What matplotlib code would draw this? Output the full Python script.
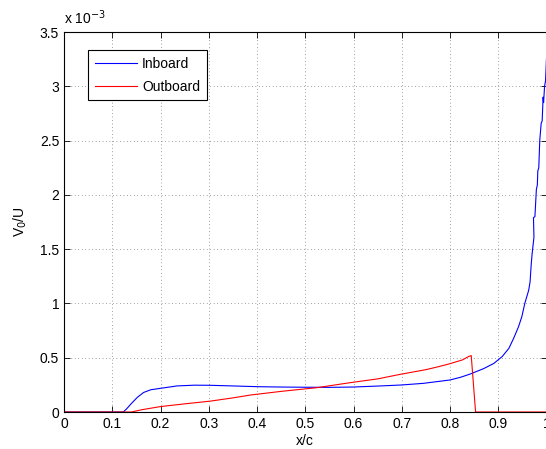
import matplotlib.pyplot as plt

plt.rcParams['font.family'] = ['Liberation Sans', 'DejaVu Sans']

# values (V_0/U in units of 1e-3)
x_in = [0.0, 0.123, 0.13, 0.14, 0.152, 0.165, 0.18, 0.2, 0.234, 0.27, 0.303, 0.35,
        0.403, 0.45, 0.5, 0.55, 0.6, 0.656, 0.7, 0.745, 0.8, 0.822, 0.842, 0.87,
        0.891, 0.908, 0.922, 0.932, 0.942, 0.949, 0.955, 0.963, 0.966, 0.968,
        0.970, 0.974, 0.973, 0.976, 0.979, 0.981, 0.982, 0.984, 0.986, 0.989,
        0.991, 0.993, 0.994, 0.996, 0.998, 1.0]
v_in = [0.0, 0.0, 0.03, 0.08, 0.135, 0.18, 0.205, 0.218, 0.24, 0.247, 0.246, 0.24,
        0.233, 0.23, 0.228, 0.227, 0.23, 0.24, 0.249, 0.264, 0.295, 0.32, 0.35, 0.40,
        0.448, 0.51, 0.586, 0.68, 0.785, 0.88, 1.0, 1.12, 1.2, 1.34,
        1.45, 1.61, 1.79, 1.80, 2.05, 2.09, 2.22, 2.25, 2.50, 2.66,
        2.68, 2.90, 2.85, 3.0, 3.05, 3.26]

x_out = [0.0, 0.14, 0.16, 0.2, 0.25, 0.303, 0.35, 0.386, 0.45, 0.524, 0.593, 0.65,
         0.697, 0.75, 0.774, 0.80, 0.826, 0.838, 0.844, 0.853, 1.0]
v_out = [0.0, 0.0, 0.02, 0.05, 0.075, 0.10, 0.13, 0.156, 0.19, 0.224, 0.27, 0.305,
         0.347, 0.39, 0.415, 0.445, 0.48, 0.51, 0.52, 0.0, 0.0]

x_ticks = [0, 0.1, 0.2, 0.3, 0.4, 0.5, 0.6, 0.7, 0.8, 0.9, 1]
x_tick_labels = ['0', '0.1', '0.2', '0.3', '0.4', '0.5', '0.6', '0.7', '0.8', '0.9', '1']
y_ticks = [0, 0.5, 1, 1.5, 2, 2.5, 3, 3.5]
y_tick_labels = ['0', '0.5', '1', '1.5', '2', '2.5', '3', '3.5']

fig = plt.figure(figsize=(5.46, 4.49), dpi=100)
fig.patch.set_facecolor('white')
ax = fig.add_axes([64 / 546, 37 / 449, 482.5 / 546, 380 / 449])

ax.plot(x_in, v_in, color='#0000ff', linewidth=0.8, label='Inboard')
ax.plot(x_out, v_out, color='#ff0000', linewidth=0.8, label='Outboard')

ax.set_xlim(0, 1)
ax.set_ylim(0, 3.5)
ax.set_xticks(x_ticks)
ax.set_xticklabels(x_tick_labels)
ax.set_yticks(y_ticks)
ax.set_yticklabels(y_tick_labels)
ax.tick_params(direction='in', top=True, right=True, length=4, width=0.6, labelsize=10)
ax.grid(True, color='black', linestyle=(0, (1, 4)), linewidth=0.5, alpha=0.7)
for s in ax.spines.values():
    s.set_linewidth(0.8)

ax.set_xlabel('x/c', fontsize=10, labelpad=2)
ax.set_ylabel('V$_0$/U', fontsize=10, labelpad=8)
ax.text(0, 1.012, 'x 10$^{-3}$', transform=ax.transAxes, fontsize=10, ha='left', va='bottom')

leg = ax.legend(loc='upper left', bbox_to_anchor=(0.0355, 0.971), fontsize=10,
                fancybox=False, framealpha=1, edgecolor='black', handlelength=3.0,
                handletextpad=0.4, borderpad=0.5, labelspacing=0.62)
leg.get_frame().set_linewidth(0.8)

plt.savefig('out.png', dpi=100)
